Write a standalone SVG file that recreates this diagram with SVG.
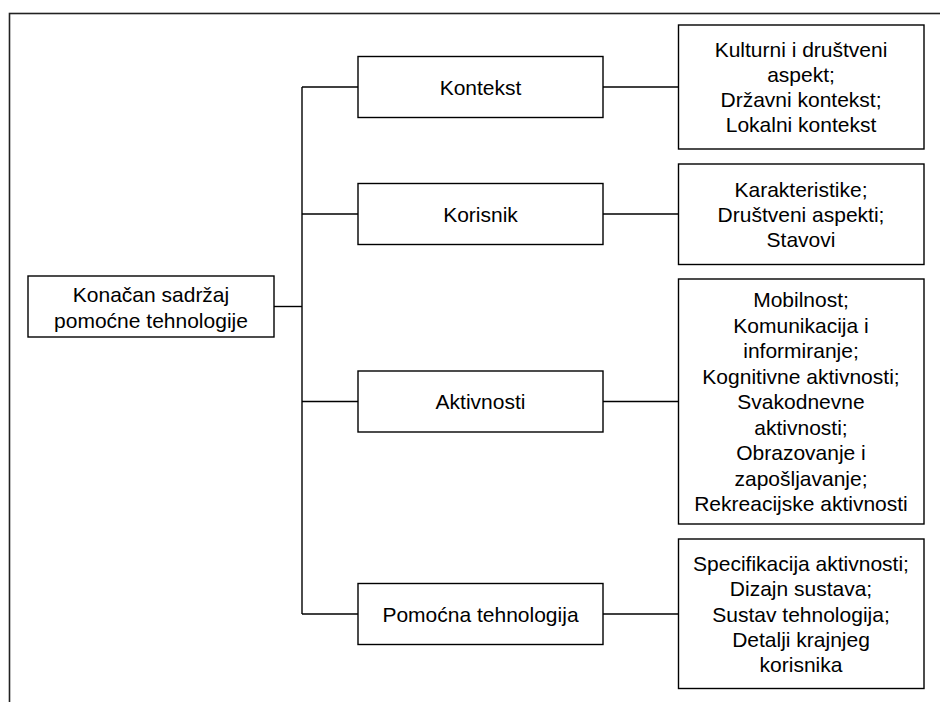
<svg xmlns="http://www.w3.org/2000/svg" width="940" height="702" viewBox="0 0 940 702">
<style>
.box{fill:#fff;stroke:#000;stroke-width:1.4}
.ln{fill:none;stroke:#000;stroke-width:1.4}
text{font-family:"Liberation Sans",Arial,sans-serif;font-size:21px;fill:#000;text-anchor:middle}
</style>
<rect x="0" y="0" width="940" height="702" fill="#fff"/>
<rect x="9.5" y="13.5" width="940" height="700" fill="none" stroke="#222" stroke-width="1.6"/>
<g id="connectors">
<line class="ln" x1="274" y1="306.5" x2="302" y2="306.5"/>
<line class="ln" x1="302" y1="87" x2="302" y2="614"/>
<line class="ln" x1="302" y1="87" x2="358" y2="87"/>
<line class="ln" x1="302" y1="214" x2="358" y2="214"/>
<line class="ln" x1="302" y1="401.5" x2="358" y2="401.5"/>
<line class="ln" x1="302" y1="614" x2="358" y2="614"/>
<line class="ln" x1="603" y1="87" x2="678" y2="87"/>
<line class="ln" x1="603" y1="214" x2="678" y2="214"/>
<line class="ln" x1="603" y1="401.5" x2="678" y2="401.5"/>
<line class="ln" x1="603" y1="614" x2="678" y2="614"/>
</g>
<g id="root">
<rect class="box" x="28" y="276" width="246" height="61"/>
<text x="151" y="302">Konačan sadržaj</text>
<text x="151" y="328">pomoćne tehnologije</text>
</g>
<g id="kontekst">
<rect class="box" x="358" y="56.5" width="245" height="61"/>
<text x="480.5" y="94.5">Kontekst</text>
</g>
<g id="korisnik">
<rect class="box" x="358" y="183.5" width="245" height="61"/>
<text x="480.5" y="221.5">Korisnik</text>
</g>
<g id="aktivnosti">
<rect class="box" x="358" y="371" width="245" height="61"/>
<text x="480.5" y="409">Aktivnosti</text>
</g>
<g id="pomocna">
<rect class="box" x="358" y="583.5" width="245" height="61"/>
<text x="480.5" y="621.5">Pomoćna tehnologija</text>
</g>
<g id="kontekst-detalji">
<rect class="box" x="678.5" y="25" width="245.5" height="124"/>
<text x="801" y="56.5">Kulturni i društveni</text>
<text x="801" y="81.5">aspekt;</text>
<text x="801" y="106.5">Državni kontekst;</text>
<text x="801" y="131.5">Lokalni kontekst</text>
</g>
<g id="korisnik-detalji">
<rect class="box" x="678.5" y="164" width="245.5" height="100.5"/>
<text x="801" y="196.5">Karakteristike;</text>
<text x="801" y="221.5">Društveni aspekti;</text>
<text x="801" y="246.5">Stavovi</text>
</g>
<g id="aktivnosti-detalji">
<rect class="box" x="678.5" y="279" width="245.5" height="245"/>
<text x="801" y="307">Mobilnost;</text>
<text x="801" y="332.5">Komunikacija i</text>
<text x="801" y="358">informiranje;</text>
<text x="801" y="383.5">Kognitivne aktivnosti;</text>
<text x="801" y="409">Svakodnevne</text>
<text x="801" y="434.5">aktivnosti;</text>
<text x="801" y="460">Obrazovanje i</text>
<text x="801" y="485.5">zapošljavanje;</text>
<text x="801" y="511">Rekreacijske aktivnosti</text>
</g>
<g id="pomocna-detalji">
<rect class="box" x="678.5" y="539" width="245.5" height="149.5"/>
<text x="801" y="571">Specifikacija aktivnosti;</text>
<text x="801" y="596.3">Dizajn sustava;</text>
<text x="801" y="621.6">Sustav tehnologija;</text>
<text x="801" y="646.9">Detalji krajnjeg</text>
<text x="801" y="672.2">korisnika</text>
</g>
</svg>
